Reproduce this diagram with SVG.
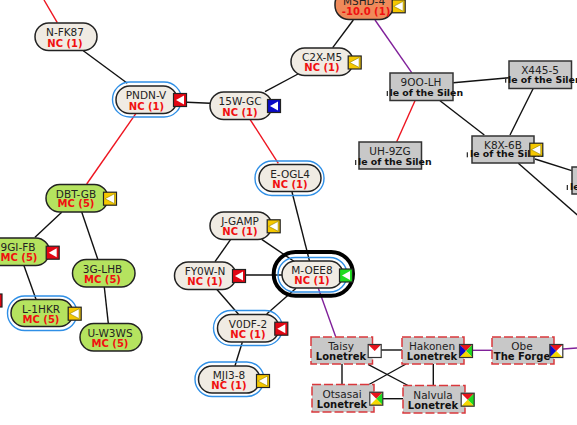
<svg xmlns="http://www.w3.org/2000/svg" width="577" height="425" viewBox="0 0 577 425">
<style>
.sn{font:10.5px "DejaVu Sans",sans-serif;fill:#222;text-anchor:middle}
.st{font:bold 10px "DejaVu Sans",sans-serif;fill:#f01010;text-anchor:middle}
.sb{font:bold 10px "DejaVu Sans",sans-serif;fill:#111;text-anchor:middle}
.sr{font:bold 9.4px "DejaVu Sans",sans-serif;fill:#111}
.stub{fill:#333}
.nc{fill:#f0ebe3;stroke:#222;stroke-width:1.5}
.mc{fill:#b5e35f;stroke:#222;stroke-width:1.5}
.ms{fill:#ef8a5a;stroke:#222;stroke-width:1.5}
.box{fill:#c8c8c8;stroke:#333;stroke-width:1.5}
.wh{fill:#c8c8c8;stroke:#d9383c;stroke-width:1.5;stroke-dasharray:9 3}
.halo{fill:none;stroke:#2f8fe6;stroke-width:1.4}
.k{stroke:#111;stroke-width:1.4;fill:none}
.r{stroke:#ee1520;stroke-width:1.4;fill:none}
.p{stroke:#80209a;stroke-width:1.4;fill:none}
.tr{fill:#e8141c}.tb{fill:#0a0ac8}.tg{fill:#1fdc1f}.ty{fill:#f5d800}
</style>
<defs>
<g id="y"><rect x="-6.5" y="-6.5" width="13" height="13" fill="#f5c800" stroke="#222" stroke-width="1.2"/><polygon points="-5,0 4.5,-5 4.5,5" fill="#fff" stroke="#a08c00" stroke-width=".7"/></g>
<g id="rd"><rect x="-6.5" y="-6.5" width="13" height="13" fill="#e30613" stroke="#222" stroke-width="1.2"/><polygon points="-4,0 4,-4.5 4,4.5" fill="#fff"/></g>
<g id="bl"><rect x="-6.5" y="-6.5" width="13" height="13" fill="#0a0ac8" stroke="#222" stroke-width="1.2"/><polygon points="-4,0 4,-4.5 4,4.5" fill="#fff"/></g>
<g id="gr"><rect x="-6.5" y="-6.5" width="13" height="13" fill="#1fdc1f" stroke="#222" stroke-width="1.2"/><polygon points="-4,0 4,-4.5 4,4.5" fill="#fff"/></g>
<polygon id="qt" points="-6.5,-6.5 6.5,-6.5 0,0"/>
<polygon id="ql" points="-6.5,-6.5 -6.5,6.5 0,0"/>
<polygon id="qr" points="6.5,-6.5 6.5,6.5 0,0"/>
<polygon id="qb" points="-6.5,6.5 6.5,6.5 0,0"/>
<rect id="qf" x="-6.5" y="-6.5" width="13" height="13" fill="none" stroke="#333" stroke-width="1.2"/>
<rect id="qw" x="-6.5" y="-6.5" width="13" height="13" fill="#fff"/>
</defs>
<g id="connectors">
<path class="r" d="M44 0L57.3 22.7"/>
<path class="k" d="M83.3 50.7L127.3 83.3"/>
<path class="r" d="M136 113.3L86.7 184"/>
<path class="k" d="M187 102.3L210 103.3"/>
<path class="k" d="M265 91.7L298 74"/>
<path class="r" d="M250 119.3L278.3 163.3"/>
<path class="k" d="M353.3 20L332.7 47.7"/>
<path class="p" d="M375 20L411.7 72.7"/>
<path class="k" d="M453.3 82.7L509 77.7"/>
<path class="r" d="M415 100.7L396.7 141.7"/>
<path class="k" d="M440 100.7L484.3 135"/>
<path class="k" d="M533.3 88.3L510 135"/>
<path class="k" d="M535 159L571.7 170.7"/>
<path class="k" d="M518.3 163.3L577.3 215"/>
<path class="k" d="M61.7 212.3L35 237.3"/>
<path class="k" d="M81.7 212L97.7 259"/>
<path class="k" d="M24 265.7L36 299.3"/>
<path class="k" d="M104.3 287L108.3 323.3"/>
<path class="k" d="M292 192L309.5 261"/>
<path class="k" d="M261.7 239.3L295 262"/>
<path class="k" d="M230.7 239.3L215 261.7"/>
<path class="k" d="M246 275L282 275"/>
<path class="k" d="M216.7 289.3L238.5 314.3"/>
<path class="k" d="M296 288.3L266.7 314"/>
<path class="k" d="M242.3 342.3L235 365.7"/>
<path class="p" d="M318.3 288.3L335.7 336.7"/>
<path class="k" d="M381 350L402 350"/>
<path class="k" d="M342 364L342 384.5"/>
<path class="k" d="M368 364.3L408 385.5"/>
<path class="k" d="M406 364L369 384.5"/>
<path class="k" d="M433.3 364L433.3 385.5"/>
<path class="k" d="M383 398.7L403 398.7"/>
<path class="p" d="M473 350.3L492 350.3"/>
<path class="p" d="M563 349L577 348"/>
</g>
<g id="MSHD-4"><rect x="335" y="-10" width="58.5" height="29.5" rx="14" class="ms"/><text x="364" y="5" class="sn">MSHD-4</text><text x="366" y="15" class="st">-10.0 (1)</text><use href="#y" x="398.7" y="6.3"/></g>
<g id="N-FK87"><rect x="35" y="23" width="62" height="27.5" rx="13.7" class="nc"/><text x="65" y="36" class="sn">N-FK87</text><text x="65" y="46.5" class="st">NC (1)</text></g>
<g id="C2X-M5"><rect x="291" y="48" width="62" height="27.5" rx="13.7" class="nc"/><text x="322" y="61" class="sn">C2X-M5</text><text x="322" y="71" class="st">NC (1)</text><use href="#y" x="354.7" y="62.5"/></g>
<g id="PNDN-V"><rect x="112.5" y="82" width="69" height="35" rx="17.5" class="halo"/><rect x="116" y="86" width="61" height="27.5" rx="13.7" class="nc"/><text x="146" y="99" class="sn">PNDN-V</text><text x="146.500" y="109.500" class="st">NC (1)</text><use href="#rd" x="180" y="100"/></g>
<g id="15W-GC"><rect x="210" y="92" width="62" height="27.5" rx="13.7" class="nc"/><text x="240" y="105" class="sn">15W-GC</text><text x="240" y="115.500" class="st">NC (1)</text><use href="#bl" x="274" y="106"/></g>
<g id="9OO-LH"><rect x="390" y="73" width="63" height="27.5" class="box"/><text x="421" y="86" class="sn">9OO-LH</text><rect x="386.700" y="91" width="1.300" height="5" class="stub"/><text x="389.500" y="96" class="sr">le of the Silen</text></g>
<g id="X445-5"><rect x="509" y="61" width="62.500" height="27.500" class="box"/><text x="540" y="74" class="sn">X445-5</text><rect x="505" y="77.700" width="1.300" height="5" class="stub"/><text x="508" y="82.700" class="sr">le of the Silen</text></g>
<g id="UH-9ZG"><rect x="359" y="142" width="62.500" height="27" class="box"/><text x="390" y="155" class="sn">UH-9ZG</text><rect x="355" y="160" width="1.300" height="5" class="stub"/><text x="358" y="165" class="sr">le of the Silen</text></g>
<g id="K8X-6B"><rect x="472" y="136" width="62" height="27" class="box"/><text x="503" y="149" class="sn">K8X-6B</text><rect x="466.700" y="152.300" width="1.300" height="5" class="stub"/><text x="470" y="157.300" class="sr">le of the Silen</text><use href="#y" x="536.300" y="149.700"/></g>
<g id="right-node"><rect x="572" y="167" width="10" height="27" class="box"/><rect x="566.700" y="185" width="1.300" height="5" class="stub"/><text x="570" y="190" class="sr">le</text></g>
<g id="E-OGL4"><rect x="255" y="161" width="69" height="34.500" rx="17" class="halo"/><rect x="259" y="164.500" width="62" height="27" rx="13.500" class="nc"/><text x="290" y="178" class="sn">E-OGL4</text><text x="290" y="188" class="st">NC (1)</text></g>
<g id="DBT-GB"><rect x="46" y="184.500" width="62" height="27.500" rx="13.700" class="mc"/><text x="76" y="197.500" class="sn">DBT-GB</text><text x="76" y="207" class="st">MC (5)</text><use href="#y" x="110" y="198.700"/></g>
<g id="J-GAMP"><rect x="210" y="212" width="61.500" height="27.500" rx="13.700" class="nc"/><text x="240" y="225" class="sn">J-GAMP</text><text x="240" y="235" class="st">NC (1)</text><use href="#y" x="273.700" y="226.300"/></g>
<g id="9GI-FB"><rect x="-12" y="238" width="61.500" height="27.500" rx="13.700" class="mc"/><text x="18" y="251" class="sn">9GI-FB</text><text x="19" y="261" class="st">MC (5)</text><use href="#rd" x="52.700" y="252.700"/></g>
<g id="3G-LHB"><rect x="72.500" y="259.500" width="62.500" height="27.500" rx="13.700" class="mc"/><text x="102.500" y="273" class="sn">3G-LHB</text><text x="102.500" y="283" class="st">MC (5)</text></g>
<g id="FY0W-N"><rect x="174.500" y="262" width="61.500" height="27.500" rx="13.700" class="nc"/><text x="205" y="275" class="sn">FY0W-N</text><text x="205" y="285" class="st">NC (1)</text><use href="#rd" x="239" y="276"/></g>
<g id="M-OEE8"><rect x="273.700" y="252" width="79.300" height="43.700" rx="21.800" fill="none" stroke="#000" stroke-width="4"/><rect x="278" y="257.500" width="69" height="34.500" rx="17.200" class="halo"/><rect x="282" y="261" width="61" height="27" rx="13.500" class="nc"/><text x="312" y="274" class="sn">M-OEE8</text><text x="312" y="284" class="st">NC (1)</text><use href="#gr" x="346" y="275.500"/></g>
<g id="left-stub"><rect x="-8" y="294" width="10" height="13" fill="#e30613" stroke="#222" stroke-width="1.200"/></g>
<g id="L-1HKR"><rect x="7.500" y="296" width="69.500" height="34.500" rx="17.200" class="halo"/><rect x="11" y="299.500" width="62" height="27" rx="13.500" class="mc"/><text x="41" y="313" class="sn">L-1HKR</text><text x="41" y="323" class="st">MC (5)</text><use href="#y" x="74.700" y="313.700"/></g>
<g id="V0DF-2"><rect x="213.500" y="310.500" width="69" height="35" rx="17.500" class="halo"/><rect x="217.500" y="314.500" width="61.500" height="27.500" rx="13.700" class="nc"/><text x="248" y="328" class="sn">V0DF-2</text><text x="248" y="338" class="st">NC (1)</text><use href="#rd" x="281.300" y="328.700"/></g>
<g id="U-W3WS"><rect x="80" y="323.500" width="62" height="27.500" rx="13.700" class="mc"/><text x="110" y="336.500" class="sn">U-W3WS</text><text x="110" y="346.500" class="st">MC (5)</text></g>
<g id="MJI3-8"><rect x="195" y="362" width="69" height="34.500" rx="17.200" class="halo"/><rect x="198.500" y="366" width="61.500" height="27" rx="13.500" class="nc"/><text x="229" y="379" class="sn">MJI3-8</text><text x="229" y="389" class="st">NC (1)</text><use href="#y" x="263" y="381"/></g>
<g id="Taisy"><rect x="311" y="337" width="61.500" height="27" class="wh"/><text x="341" y="350" class="sn">Taisy</text><text x="341" y="359.500" class="sb">Lonetrek</text><g transform="translate(374.700 351)"><use href="#qw"/><use href="#qt" class="tr"/><use href="#qf"/></g></g>
<g id="Hakonen"><rect x="402" y="337" width="62" height="27" class="wh"/><text x="432" y="350" class="sn">Hakonen</text><text x="432" y="359.500" class="sb">Lonetrek</text><g transform="translate(466 351)"><use href="#qt" class="tr"/><use href="#ql" class="tb"/><use href="#qr" class="tg"/><use href="#qb" class="ty"/><use href="#qf"/></g></g>
<g id="Obe"><rect x="492" y="337" width="62" height="27" class="wh"/><text x="522" y="350" class="sn">Obe</text><text x="522" y="359.500" class="sb">The Forge</text><g transform="translate(556.300 351)"><use href="#qw"/><use href="#qt" class="tr"/><use href="#ql" class="tb"/><use href="#qb" class="ty"/><use href="#qf"/></g></g>
<g id="Otsasai"><rect x="312" y="384.500" width="62" height="27.500" class="wh"/><text x="342" y="398" class="sn">Otsasai</text><text x="342" y="407.500" class="sb">Lonetrek</text><g transform="translate(376.300 398.700)"><use href="#qw"/><use href="#qt" class="tr"/><use href="#qr" class="tg"/><use href="#qb" class="ty"/><use href="#qf"/></g></g>
<g id="Nalvula"><rect x="403" y="385.500" width="62" height="27.500" class="wh"/><text x="433" y="399" class="sn">Nalvula</text><text x="433" y="408.500" class="sb">Lonetrek</text><g transform="translate(467.700 399.700)"><use href="#qw"/><use href="#qt" class="tr"/><use href="#qr" class="tg"/><use href="#qb" class="ty"/><use href="#qf"/></g></g>
</svg>
